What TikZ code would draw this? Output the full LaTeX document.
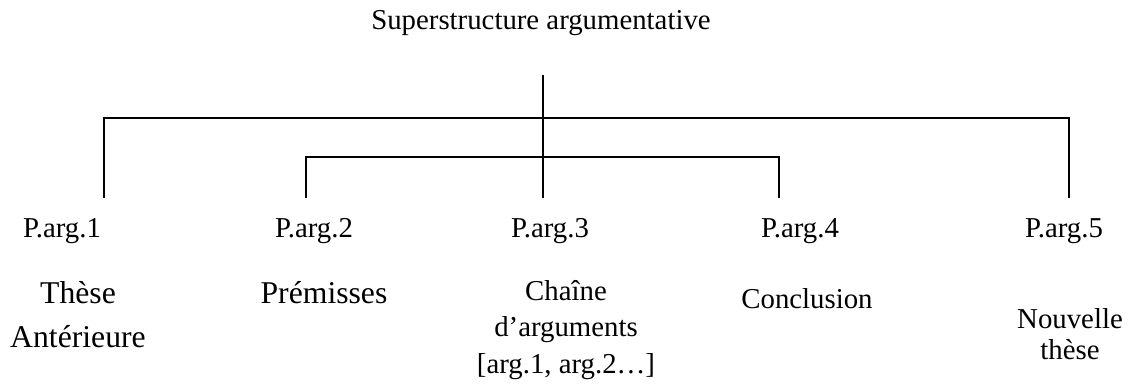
\documentclass[tikz,border=0pt]{standalone}
\usepackage{fontspec}
\setmainfont{Liberation Serif}
\begin{document}
\begin{tikzpicture}[x=1pt,y=-1pt,
  txt/.style={inner sep=0pt, anchor=base, font=\fontsize{28.8}{36.5}\selectfont, align=center},
  big/.style={inner sep=0pt, anchor=base, font=\fontsize{31.7}{44}\selectfont, align=center},
  plab/.style={inner sep=0pt, anchor=base, font=\fontsize{28.8}{32}\selectfont},
  tree/.style={line width=1.8pt}]
\useasboundingbox (0,0) rectangle (1133,385);
\node[txt] (title) at (541,29.3) {Superstructure argumentative};
\node[plab] (p1) at (62,237) {P.arg.1};
\node[plab] (p2) at (314,237) {P.arg.2};
\node[plab] (p3) at (550,237) {P.arg.3};
\node[plab] (p4) at (800,237) {P.arg.4};
\node[plab] (p5) at (1064,237) {P.arg.5};
\coordinate (hub) at (543,75);
\coordinate (b1) at (543,118);
\coordinate (b2) at (543,157);
\coordinate (e1) at (104,198);
\coordinate (e2) at (306,198);
\coordinate (e3) at (543,198);
\coordinate (e4) at (779,198);
\coordinate (e5) at (1069,198);
\draw[tree] (hub) -- (e3);
\draw[tree] (e1) |- (b1) -| (e5);
\draw[tree] (e2) |- (b2) -| (e4);
% multi-line nodes: base anchor = baseline of the last line
\node[big] (d1) at (78,347) {Thèse\\Antérieure};
\node[big] (d2) at (324,303) {Prémisses};
\node[txt] (d3) at (566,373) {Chaîne\\d’arguments\\{[}arg.1, arg.2…]};
\node[txt] (d4) at (807,308) {Conclusion};
\node[txt, font=\fontsize{28.8}{31}\selectfont] (d5) at (1070,359) {Nouvelle\\thèse};
\end{tikzpicture}
\end{document}
